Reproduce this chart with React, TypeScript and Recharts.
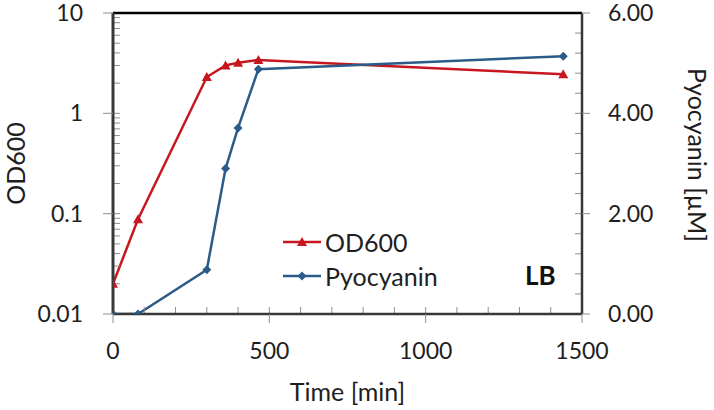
import React from 'react';
import { LineChart, Line, XAxis, YAxis, Legend } from 'recharts';

const times = [0, 80, 300, 360, 400, 465, 1440];
const od600 = [0.02, 0.088, 2.3, 3.0, 3.2, 3.4, 2.45];
const pyocyanin = [0, 0, 0.88, 2.9, 3.71, 4.88, 5.14];

const timeTicks = [0, 500, 1000, 1500];
const timeMinorTicks = [0, 100, 200, 300, 400, 500, 600, 700, 800, 900, 1000, 1100, 1200, 1300, 1400, 1500];
const odTicks = [0.01, 0.1, 1, 10];
const odMinorTicks = [
  0.01, 0.02, 0.03, 0.04, 0.05, 0.06, 0.07, 0.08, 0.09,
  0.1, 0.2, 0.3, 0.4, 0.5, 0.6, 0.7, 0.8, 0.9,
  1, 2, 3, 4, 5, 6, 7, 8, 9, 10,
];
const pyoTicks = [0, 2, 4, 6];
const pyoMinorTicks = [0, 0.4, 0.8, 1.2, 1.6, 2, 2.4, 2.8, 3.2, 3.6, 4, 4.4, 4.8, 5.2, 5.6, 6];

const RED = '#C8161E';
const BLUE = '#2B5B88';
const FRAME = '#383838';
const TICK = '#8f8f8f';
const TEXT = '#1e1e1e';

const data = times.map((t, i) => ({ time: t, od: od600[i], pyo: pyocyanin[i] }));

const Triangle = ({ cx, cy, fill, size = 5 }: any) => {
  if (cx == null || cy == null) return null;
  return <path d={`M${cx},${cy - size} L${cx + size},${cy + size * 0.8} L${cx - size},${cy + size * 0.8} Z`} fill={fill} />;
};

const Diamond = ({ cx, cy, fill, size = 4.5 }: any) => {
  if (cx == null || cy == null) return null;
  return <path d={`M${cx},${cy - size} L${cx + size},${cy} L${cx},${cy + size} L${cx - size},${cy} Z`} fill={fill} />;
};

// minor axes keep their tick lines but draw no labels
const noLabel = () => <g />;

const tickStyle = { fill: TEXT, fontSize: 23, fontFamily: 'Lato' };

function LegendBox() {
  const items = [
    { name: 'OD600', color: RED, marker: 'tri' },
    { name: 'Pyocyanin', color: BLUE, marker: 'dia' },
  ];
  return (
    <div style={{ fontFamily: 'Lato', fontSize: 25, color: TEXT }}>
      {items.map(it => (
        <div key={it.name} style={{ display: 'flex', alignItems: 'center', height: 34 }}>
          <svg width={40} height={20} style={{ marginRight: 2 }}>
            <line x1={0} y1={10} x2={38} y2={10} stroke={it.color} strokeWidth={2.5} />
            {it.marker === 'tri' ? <Triangle cx={19} cy={10} fill={it.color} /> : <Diamond cx={19} cy={10} fill={it.color} />}
          </svg>
          <span>{it.name}</span>
        </div>
      ))}
    </div>
  );
}

export default function App() {
  return (
    <div style={{ position: 'absolute', left: 0, top: 0, width: 714, height: 410, background: '#fff', fontFamily: 'Lato' }}>
      <LineChart width={714} height={410} data={data} margin={{ top: 13, right: 0, bottom: 0, left: 0 }}>
        {/* minor ticks, drawn inside the plot */}
        <XAxis xAxisId="minor" type="number" dataKey="time" domain={[0, 1500]} allowDataOverflow ticks={timeMinorTicks} interval={0}
          orientation="bottom" mirror height={1} tick={noLabel} tickSize={7} tickLine={{ stroke: TICK }} axisLine={false} />
        <YAxis yAxisId="leftMinor" type="number" scale="log" domain={[0.01, 10]} allowDataOverflow ticks={odMinorTicks} interval={0}
          orientation="left" mirror width={1} tick={noLabel} tickSize={7} tickLine={{ stroke: TICK }} axisLine={false} />
        <YAxis yAxisId="rightMinor" type="number" domain={[0, 6]} allowDataOverflow ticks={pyoMinorTicks} interval={0}
          orientation="right" mirror width={1} tick={noLabel} tickSize={7} tickLine={{ stroke: TICK }} axisLine={false} />
        <XAxis xAxisId="top" type="number" dataKey="time" domain={[0, 1500]} allowDataOverflow ticks={timeTicks}
          orientation="top" mirror height={1} tick={false} tickLine={false} axisLine={{ stroke: '#000', strokeWidth: 2.5 }} />

        <XAxis xAxisId="x" type="number" dataKey="time" domain={[0, 1500]} allowDataOverflow ticks={timeTicks} interval={0} height={96}
          tick={tickStyle} tickSize={9} tickMargin={20} tickLine={{ stroke: TICK }} axisLine={{ stroke: FRAME, strokeWidth: 2.5 }}
          label={({ viewBox }: any) => (
            <text x={viewBox.x + viewBox.width / 2} y={viewBox.y + 77} textAnchor="middle" dominantBaseline="central"
              fontSize={25} fontFamily="Lato" fill={TEXT}>Time [min]</text>
          )} />
        <YAxis yAxisId="left" type="number" scale="log" domain={[0.01, 10]} allowDataOverflow ticks={odTicks} interval={0} width={113}
          tick={tickStyle} tickSize={10} tickMargin={20} tickLine={{ stroke: TICK }} axisLine={{ stroke: FRAME, strokeWidth: 3 }}
          tickFormatter={(v: number) => String(v)}
          label={({ viewBox }: any) => (
            <text x={15} y={viewBox.y + viewBox.height / 2} textAnchor="middle" dominantBaseline="central"
              transform={`rotate(-90, 15, ${viewBox.y + viewBox.height / 2})`} fontSize={25} fontFamily="Lato" fill={TEXT}>OD600</text>
          )} />
        <YAxis yAxisId="right" orientation="right" type="number" domain={[0, 6]} allowDataOverflow ticks={pyoTicks} interval={0} width={132}
          tick={tickStyle} tickSize={8} tickMargin={18} tickLine={{ stroke: TICK }} axisLine={{ stroke: FRAME, strokeWidth: 2.5 }}
          tickFormatter={(v: number) => v.toFixed(2)}
          label={() => (
            <text x={698} y={155} textAnchor="middle" dominantBaseline="central"
              transform="rotate(90, 698, 155)" fontSize={25} fontFamily="Lato" fill={TEXT}>Pyocyanin [µM]</text>
          )} />

        <Line xAxisId="x" yAxisId="left" dataKey="od" name="OD600" stroke={RED} strokeWidth={2.5} isAnimationActive={false}
          dot={(p: any) => <Triangle key={`od-${p.index}`} cx={p.cx} cy={p.cy} fill={RED} />} activeDot={false} />
        <Line xAxisId="x" yAxisId="right" dataKey="pyo" name="Pyocyanin" stroke={BLUE} strokeWidth={2.5} isAnimationActive={false}
          dot={(p: any) => <Diamond key={`pyo-${p.index}`} cx={p.cx} cy={p.cy} fill={BLUE} />} activeDot={false} />

        <Legend layout="vertical" align="center" verticalAlign="middle" content={() => <LegendBox />}
          wrapperStyle={{ left: 283, top: 225, width: 'auto', height: 'auto' }} />
      </LineChart>
      <div style={{ position: 'absolute', left: 525, top: 259, fontFamily: 'Lato', fontWeight: 700, fontSize: 26, color: '#111' }}>LB</div>
    </div>
  );
}
